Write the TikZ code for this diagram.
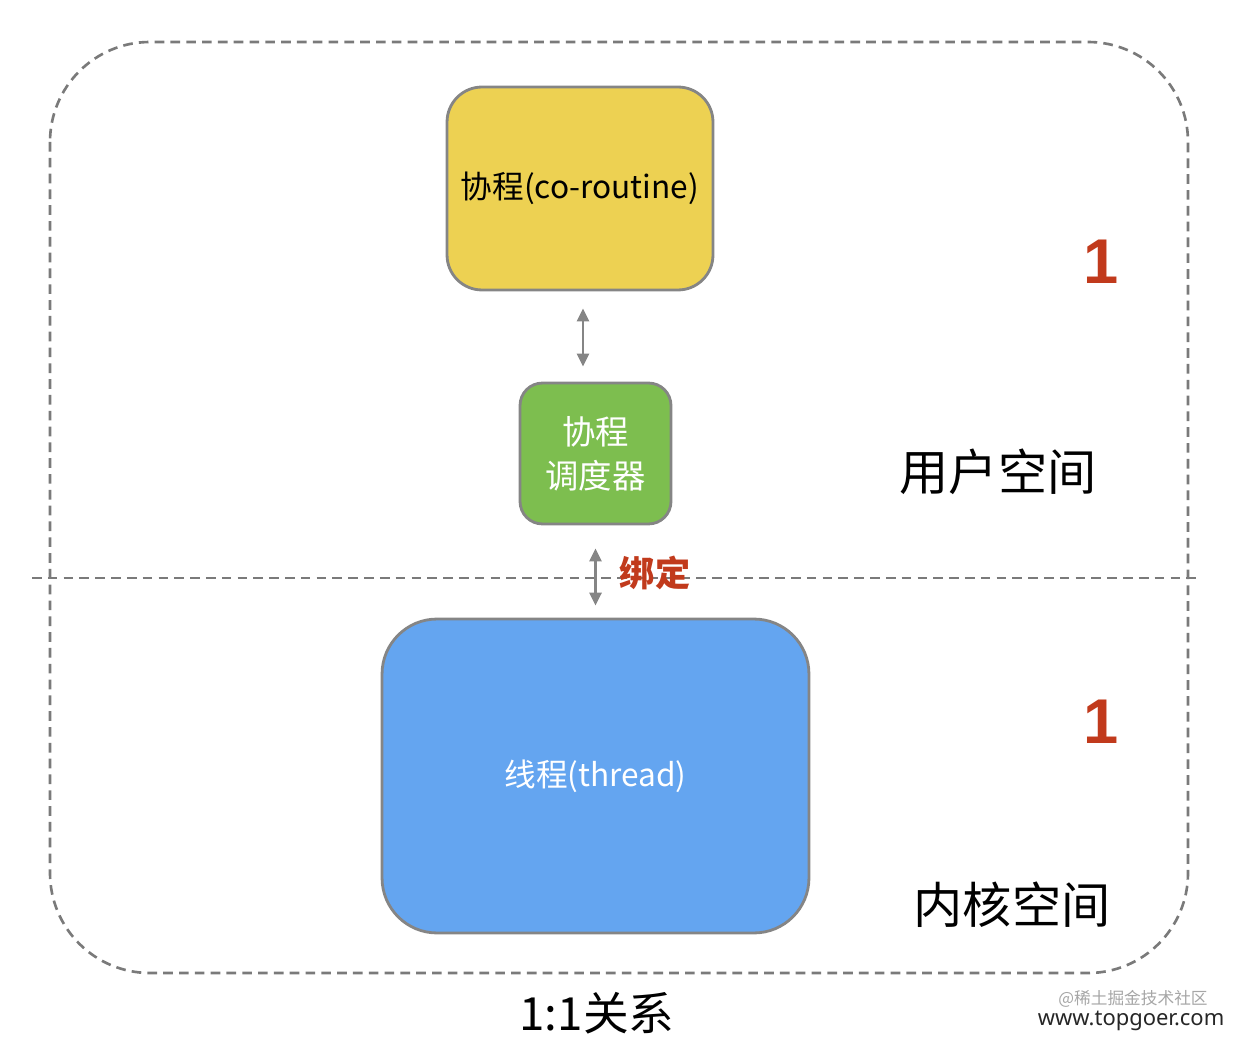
\documentclass[tikz,border=0pt]{standalone}
\usepackage{fontspec}
\setmainfont{Noto Sans CJK SC}
\newfontfamily\numfont{Liberation Sans}
\newfontfamily\markfont{Noto Sans}
\usepackage{xcolor}
\definecolor{borderGray}{HTML}{858585}
\definecolor{dashGray}{HTML}{7A7A7A}
\definecolor{coColor}{HTML}{EDD152}
\definecolor{schedColor}{HTML}{7DBE4F}
\definecolor{threadColor}{HTML}{64A5F0}
\definecolor{markRed}{HTML}{C13A1C}
\usepackage{tikz}
\usetikzlibrary{positioning,calc,arrows.meta}
\tikzset{
  coBox/.style={
    rectangle,
    rounded corners=0.7cm,
    draw=borderGray,
    line width=1.6pt,
    fill=coColor,
    minimum width=5.32cm,
    minimum height=4.06cm,
    align=center,
    font=\fontsize{18}{22}\selectfont
 },
  schedBox/.style={
    rectangle,
    rounded corners=0.45cm,
    draw=borderGray,
    line width=1.6pt,
    fill=schedColor,
    text=white,
    minimum width=3.02cm,
    minimum height=2.82cm,
    align=center,
    font=\fontsize{19}{25}\selectfont
 },
  threadBox/.style={
    rectangle,
    rounded corners=1.1cm,
    draw=borderGray,
    line width=1.6pt,
    fill=threadColor,
    text=white,
    minimum width=8.54cm,
    minimum height=6.28cm,
    align=center,
    font=\fontsize{18}{22}\selectfont
 },
  spaceLabel/.style={
    font=\fontsize{28}{32}\selectfont
 },
  countLabel/.style={
    text=markRed,
    font=\numfont\bfseries\fontsize{36}{40}\selectfont
 },
  arrowLine/.style={
    {Triangle[length=2.6mm,width=2.4mm]}-{Triangle[length=2.6mm,width=2.4mm]},
    line width=1.6pt,
    color=borderGray
 },
  dashLine/.style={
    dashed,
    dash pattern=on 5.5pt off 3.5pt,
    line width=1.5pt,
    color=dashGray
 }
}

\begin{document}
\begin{tikzpicture}[x=0.02cm,y=-0.02cm]
            \useasboundingbox (0,0) rectangle (1240,1043);

            % outer frame and the user / kernel split
            \draw[dashLine, rounded corners=2cm] (50,42) rectangle (1188,973);
            \draw[dashLine, line width=1.3pt] (32,578) -- (1200,578);

            \node[coBox] (coroutine) at (580,188.5) {协程(co-routine)};
            \node[schedBox] (scheduler) at (595.5,453.5) {协程\\调度器};
            \node[threadBox] (thread) at (595.5,776) {线程(thread)};

            \draw[arrowLine, shorten <=0.34cm, shorten >=0.3cm] ([xshift=0.06cm]coroutine.south) -- ([xshift=0.06cm]coroutine.south |- scheduler.north);
            \draw[arrowLine, shorten <=0.46cm, shorten >=0.24cm] (scheduler.south) -- (thread.north);
            \node[text=markRed, font=\bfseries\fontsize{20}{24}\selectfont] (bind) at (655,573) {绑定};

            \node[countLabel] (userCount) at (1101,262) {1};
            \node[countLabel] (kernelCount) at (1101,722) {1};
            \node[spaceLabel] (userSpace) at (998,472) {用户空间};
            \node[spaceLabel] (kernelSpace) at (1012,905) {内核空间};

            \node[font=\fontsize{26}{30}\selectfont] (ratio) at (597,1013) {1:1关系};

            % watermarks
            \node[text=black!35, font=\fontsize{9.5}{11}\selectfont, inner sep=1pt] (jj) at (1133,999) {@稀土掘金技术社区};
            \node[text=black!85, font=\markfont\fontsize{12.5}{14}\selectfont, inner sep=1pt] (site) at (1131,1021) {www.topgoer.com};

        \end{tikzpicture}
\end{document}
